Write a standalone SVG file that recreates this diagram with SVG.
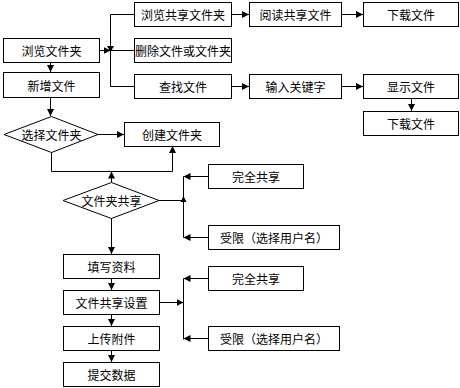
<svg xmlns="http://www.w3.org/2000/svg" width="460" height="388" viewBox="0 0 460 388">
<style>
.n rect,.n polygon{fill:#fff;stroke:#000;stroke-width:1}
.n text{font-family:"Noto Sans CJK SC","Noto Sans CJK JP",sans-serif;font-size:12px;fill:#000;text-anchor:middle;dominant-baseline:central}
.c line,.c polyline{fill:none;stroke:#000;stroke-width:1}
.c .a{marker-end:url(#ah)}
</style>
<defs>
<marker id="ah" markerUnits="userSpaceOnUse" markerWidth="8" markerHeight="8" refX="7" refY="4" orient="auto">
<path d="M0,0.5 L7,4 L0,7.5 z" fill="#000"/>
</marker>
</defs>
<rect width="460" height="388" fill="#fff"/>
<g class="c">
<line class="a" x1="99.5" y1="50.5" x2="110.5" y2="50.5"/>
<path d="M107,46 L114,46 L110.5,52 z" fill="#000"/>
<line x1="110.5" y1="14.5" x2="110.5" y2="86.5"/>
<line x1="110.5" y1="14.5" x2="134" y2="14.5"/>
<line x1="110.5" y1="50.5" x2="134" y2="50.5"/>
<line x1="110.5" y1="86.5" x2="134" y2="86.5"/>
<line class="a" x1="231" y1="14.5" x2="249" y2="14.5"/>
<line class="a" x1="341" y1="14.5" x2="363" y2="14.5"/>
<line class="a" x1="231" y1="86.5" x2="249" y2="86.5"/>
<line class="a" x1="341" y1="86.5" x2="363" y2="86.5"/>
<line class="a" x1="411.5" y1="98" x2="411.5" y2="111"/>
<line class="a" x1="50.5" y1="62" x2="50.5" y2="72"/>
<line class="a" x1="50.5" y1="97" x2="50.5" y2="116"/>
<line class="a" x1="98" y1="134.5" x2="124" y2="134.5"/>
<polyline points="51.5,152 51.5,171.5 172.5,171.5"/>
<line class="a" x1="172.5" y1="171.5" x2="172.5" y2="146"/>
<line class="a" x1="111.5" y1="182" x2="111.5" y2="171.5"/>
<line x1="159" y1="200.5" x2="183.5" y2="200.5"/>
<path d="M180.5,202 L186.5,202 L183.5,196 z" fill="#000"/>
<line x1="183.5" y1="176.5" x2="183.5" y2="237.5"/>
<line class="a" x1="208" y1="176.5" x2="183.5" y2="176.5"/>
<line class="a" x1="208" y1="237.5" x2="183.5" y2="237.5"/>
<line class="a" x1="111.5" y1="218" x2="111.5" y2="254"/>
<line class="a" x1="111.5" y1="278" x2="111.5" y2="290"/>
<line class="a" x1="111.5" y1="314" x2="111.5" y2="326"/>
<line class="a" x1="111.5" y1="350" x2="111.5" y2="362"/>
<line class="a" x1="159" y1="302.5" x2="183.5" y2="302.5"/>
<line x1="183.5" y1="278.5" x2="183.5" y2="339.5"/>
<line class="a" x1="208" y1="278.5" x2="183.5" y2="278.5"/>
<line class="a" x1="208" y1="338.5" x2="183.5" y2="338.5"/>
</g>
<g class="n" id="browse-folder"><rect x="3.5" y="38.5" width="96" height="24"/><text x="51.5" y="50.5">浏览文件夹</text></g>
<g class="n" id="new-file"><rect x="3.5" y="72.5" width="96" height="25"/><text x="51.5" y="85">新增文件</text></g>
<g class="n" id="browse-shared"><rect x="134.5" y="2.5" width="97" height="24"/><text x="183" y="14.5">浏览共享文件夹</text></g>
<g class="n" id="delete"><rect x="134.5" y="38.5" width="97" height="24"/><text x="183" y="50.5">删除文件或文件夹</text></g>
<g class="n" id="search"><rect x="134.5" y="74.5" width="97" height="24"/><text x="183" y="86.5">查找文件</text></g>
<g class="n" id="read-shared"><rect x="249.5" y="2.5" width="92" height="24"/><text x="295.5" y="14.5">阅读共享文件</text></g>
<g class="n" id="download1"><rect x="363.5" y="2.5" width="95" height="24"/><text x="411" y="14.5">下载文件</text></g>
<g class="n" id="keyword"><rect x="249.5" y="74.5" width="92" height="24"/><text x="295.5" y="86.5">输入关键字</text></g>
<g class="n" id="show-file"><rect x="363.5" y="74.5" width="95" height="24"/><text x="411" y="86.5">显示文件</text></g>
<g class="n" id="download2"><rect x="363.5" y="111.5" width="95" height="24"/><text x="411" y="123.5">下载文件</text></g>
<g class="n" id="select-folder"><polygon points="4,134.5 51.5,116.5 98,134.5 51.5,152.5"/><text x="51.5" y="134.5">选择文件夹</text></g>
<g class="n" id="create-folder"><rect x="124.5" y="122.5" width="95" height="24"/><text x="172" y="134.5">创建文件夹</text></g>
<g class="n" id="folder-share"><polygon points="63,200.5 111.5,182.5 159,200.5 111.5,218.5"/><text x="111.5" y="200.5">文件夹共享</text></g>
<g class="n" id="full-share1"><rect x="208.5" y="164.5" width="95" height="24"/><text x="256" y="176.5">完全共享</text></g>
<g class="n" id="limited1"><rect x="208.5" y="225.5" width="131" height="24"/><text x="274" y="237.5">受限（选择用户名）</text></g>
<g class="n" id="fill-info"><rect x="63.5" y="254.5" width="96" height="24"/><text x="111.5" y="266.5">填写资料</text></g>
<g class="n" id="share-settings"><rect x="63.5" y="290.5" width="96" height="24"/><text x="111.5" y="302.5">文件共享设置</text></g>
<g class="n" id="upload"><rect x="63.5" y="326.5" width="96" height="24"/><text x="111.5" y="338.5">上传附件</text></g>
<g class="n" id="submit"><rect x="63.5" y="362.5" width="96" height="24"/><text x="111.5" y="374.5">提交数据</text></g>
<g class="n" id="full-share2"><rect x="208.5" y="266.5" width="95" height="24"/><text x="256" y="278.5">完全共享</text></g>
<g class="n" id="limited2"><rect x="208.5" y="326.5" width="131" height="24"/><text x="274" y="338.5">受限（选择用户名）</text></g>
</svg>
